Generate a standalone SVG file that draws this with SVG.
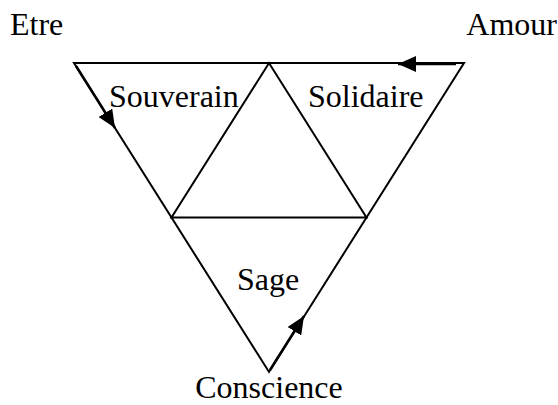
<svg xmlns="http://www.w3.org/2000/svg" width="558" height="405" viewBox="0 0 558 405">
<style>
text { font-family: "Liberation Serif", "Times New Roman", serif; font-size: 32px; fill: #000; }
.edge { stroke: #000; stroke-width: 2; fill: none; stroke-linecap: square; }
.arr { stroke: #000; stroke-width: 2.5; fill: none; marker-end: url(#ah); }
</style>
<defs>
<marker id="ah" markerUnits="userSpaceOnUse" markerWidth="19" markerHeight="16" refX="18" refY="8" orient="auto">
<path d="M0,0 L18,8 L0,16 z" fill="#000"/>
</marker>
</defs>
<g id="connectors">
<polygon class="edge" points="74,63 464,63 269,372"/>
<polygon class="edge" points="269,63 366.5,217.5 171.5,217.5"/>
<line class="arr" x1="456" y1="64" x2="398" y2="64"/>
<line class="arr" x1="76" y1="66" x2="115" y2="128"/>
<line class="arr" x1="270" y1="370" x2="304" y2="316"/>
</g>
<g id="etre"><text x="10" y="35">Etre</text></g>
<g id="amour"><text x="557" y="35" text-anchor="end">Amour</text></g>
<g id="souverain"><text x="109" y="107">Souverain</text></g>
<g id="solidaire"><text x="308" y="107">Solidaire</text></g>
<g id="sage"><text x="237" y="290">Sage</text></g>
<g id="conscience"><text x="269" y="398" text-anchor="middle">Conscience</text></g>
</svg>
